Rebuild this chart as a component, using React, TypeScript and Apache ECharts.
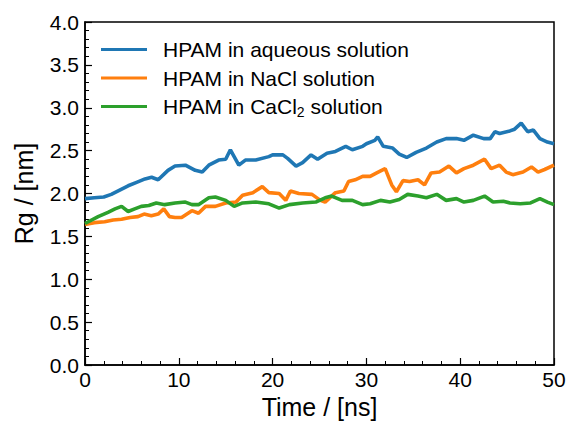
import React, { useEffect, useRef } from "react";
import * as echarts from "echarts";

const seriesNames = [
  "HPAM in aqueous solution",
  "HPAM in NaCl solution",
  "HPAM in CaCl{sub|2} solution",
];
const seriesColors = ["#1f77b4", "#ff7f0e", "#2ca02c"];

const aqueousData: [number, number][] = [
  [0, 1.94], [1, 1.95], [2, 1.96], [2.8, 1.99], [3.7, 2.04], [4.6, 2.09], [5.5, 2.13],
  [6.4, 2.17], [7.1, 2.19], [7.8, 2.16], [8.85, 2.27], [9.6, 2.32], [10.7, 2.33],
  [11.75, 2.27], [12.5, 2.25], [13.2, 2.33], [14.25, 2.39], [15.0, 2.40], [15.5, 2.51],
  [16.4, 2.33], [17.1, 2.39], [18.2, 2.39], [19.6, 2.43], [20.0, 2.45], [21.1, 2.45],
  [21.6, 2.41], [22.5, 2.32], [23.2, 2.36], [24.1, 2.45], [24.8, 2.40], [25.8, 2.47],
  [26.7, 2.49], [27.8, 2.55], [28.5, 2.51], [29.6, 2.55], [30.0, 2.58], [30.9, 2.62],
  [31.2, 2.66], [31.8, 2.55], [32.8, 2.53], [33.5, 2.46], [34.3, 2.42], [35.3, 2.48],
  [36.4, 2.53], [37.5, 2.60], [38.5, 2.64], [39.6, 2.64], [40.4, 2.62], [41.4, 2.68],
  [42.5, 2.64], [43.2, 2.64], [43.7, 2.72], [44.2, 2.70], [45.3, 2.73], [45.8, 2.75],
  [46.5, 2.82], [47.2, 2.72], [47.8, 2.74], [48.5, 2.64], [49.3, 2.60], [50, 2.58],
];

const naclData: [number, number][] = [
  [0, 1.64], [1, 1.66], [2.1, 1.67], [3, 1.69], [3.9, 1.70], [4.8, 1.72], [5.65, 1.73],
  [6.3, 1.76], [7.07, 1.74], [7.8, 1.76], [8.4, 1.82], [9.0, 1.73], [9.6, 1.72],
  [10.3, 1.72], [11.4, 1.80], [12.1, 1.77], [12.85, 1.85], [13.9, 1.85], [15.0, 1.89],
  [16.1, 1.90], [16.8, 1.98], [17.9, 2.01], [18.9, 2.08], [19.6, 2.01], [20.7, 2.00],
  [21.4, 1.92], [21.9, 2.03], [22.8, 2.00], [24.2, 1.99], [25.1, 1.92], [25.6, 1.90],
  [26.7, 2.01], [27.6, 2.03], [28.1, 2.14], [28.8, 2.16], [29.6, 2.20], [30.4, 2.20],
  [31.1, 2.24], [32.0, 2.29], [32.7, 2.10], [33.2, 2.02], [33.9, 2.15], [34.6, 2.14],
  [35.5, 2.16], [36.2, 2.10], [36.9, 2.24], [37.8, 2.25], [38.8, 2.32], [39.6, 2.24],
  [40.4, 2.29], [41.4, 2.33], [42.6, 2.40], [43.3, 2.29], [44.2, 2.33], [44.9, 2.25],
  [45.6, 2.22], [46.7, 2.25], [47.6, 2.31], [48.3, 2.25], [49.0, 2.28], [50, 2.33],
];

const cacl2Data: [number, number][] = [
  [0, 1.65], [1.4, 1.73], [2.45, 1.78], [3.2, 1.82], [3.9, 1.85], [4.6, 1.79], [5.3, 1.82],
  [6.0, 1.85], [6.8, 1.86], [7.6, 1.89], [8.5, 1.87], [9.6, 1.89], [10.7, 1.90],
  [11.4, 1.87], [12.1, 1.87], [13.2, 1.95], [13.9, 1.96], [15.0, 1.92], [15.9, 1.85],
  [16.8, 1.89], [18.2, 1.90], [19.6, 1.88], [20.7, 1.83], [21.8, 1.87], [23.2, 1.89],
  [24.6, 1.90], [25.6, 1.95], [26.3, 1.97], [27.4, 1.92], [28.5, 1.92], [29.6, 1.87],
  [30.4, 1.88], [31.5, 1.92], [32.5, 1.90], [33.5, 1.93], [34.4, 1.99], [35.5, 1.97],
  [36.4, 1.95], [37.5, 1.99], [38.5, 1.92], [39.6, 1.94], [40.4, 1.90], [41.4, 1.92],
  [42.6, 1.97], [43.5, 1.90], [44.6, 1.91], [45.3, 1.89], [46.4, 1.88], [47.5, 1.89],
  [48.5, 1.94], [49.3, 1.90], [50, 1.87],
];

const seriesData = [aqueousData, naclData, cacl2Data];

const FONT = "'Liberation Sans', Arial, sans-serif";

export default function App() {
  const ref = useRef<HTMLDivElement>(null);
  useEffect(() => {
    if (!ref.current) return;
    const chart = echarts.init(ref.current, undefined, { renderer: "svg" });
    chart.setOption({
      animation: false,
      textStyle: { fontFamily: FONT },
      grid: {
        left: 85,
        right: 12,
        top: 22,
        bottom: 56,
        containLabel: false,
        outerBoundsMode: "none",
        show: true,
        borderColor: "#000",
        borderWidth: 1.5,
        backgroundColor: "transparent",
      },
      legend: {
        orient: "vertical",
        left: 101,
        top: 39,
        padding: 0,
        itemWidth: 46,
        itemHeight: 3,
        itemGap: 7.5,
        icon: "rect",
        data: seriesNames.map((n) => ({ name: n })),
        textStyle: {
          fontFamily: FONT,
          fontSize: 21,
          color: "#000",
          padding: [0, 0, 0, 11],
          rich: {
            sub: { fontSize: 14, fontFamily: FONT, color: "#000", verticalAlign: "bottom", padding: [11, 0, 0, 0] },
          },
        },
      },
      xAxis: {
        type: "value",
        min: 0,
        max: 50,
        interval: 10,
        name: "Time / [ns]",
        nameLocation: "middle",
        nameGap: 28,
        nameTextStyle: { fontSize: 25, color: "#000", fontFamily: FONT },
        axisLine: { show: true, lineStyle: { color: "#000", width: 1.5 } },
        axisTick: { show: true, inside: true, length: 7, lineStyle: { color: "#000", width: 1.2 } },
        minorTick: { show: true, splitNumber: 5, length: 4, lineStyle: { color: "#000", width: 1 } },
        splitLine: { show: false },
        axisLabel: { fontSize: 21, color: "#000", margin: 4, fontFamily: FONT },
      },
      yAxis: {
        type: "value",
        min: 0,
        max: 4,
        interval: 0.5,
        name: "Rg / [nm]",
        nameLocation: "middle",
        nameGap: 49,
        nameTextStyle: { fontSize: 25, color: "#000", fontFamily: FONT },
        axisLine: { show: true, lineStyle: { color: "#000", width: 1.5 } },
        axisTick: { show: true, inside: true, length: 7, lineStyle: { color: "#000", width: 1.2 } },
        minorTick: { show: true, splitNumber: 5, length: 4, lineStyle: { color: "#000", width: 1 } },
        splitLine: { show: false },
        axisLabel: {
          fontSize: 21,
          color: "#000",
          margin: 6,
          fontFamily: FONT,
          formatter: (v: number) => v.toFixed(1),
        },
      },
      series: seriesNames.map((name, i) => ({
        name,
        type: "line",
        data: seriesData[i],
        showSymbol: false,
        symbol: "none",
        color: seriesColors[i],
        lineStyle: { width: 3.6, color: seriesColors[i] },
      })),
    });
    return () => chart.dispose();
  }, []);
  return <div ref={ref} style={{ width: 566, height: 421, position: "absolute", left: 0, top: 0 }} />;
}
